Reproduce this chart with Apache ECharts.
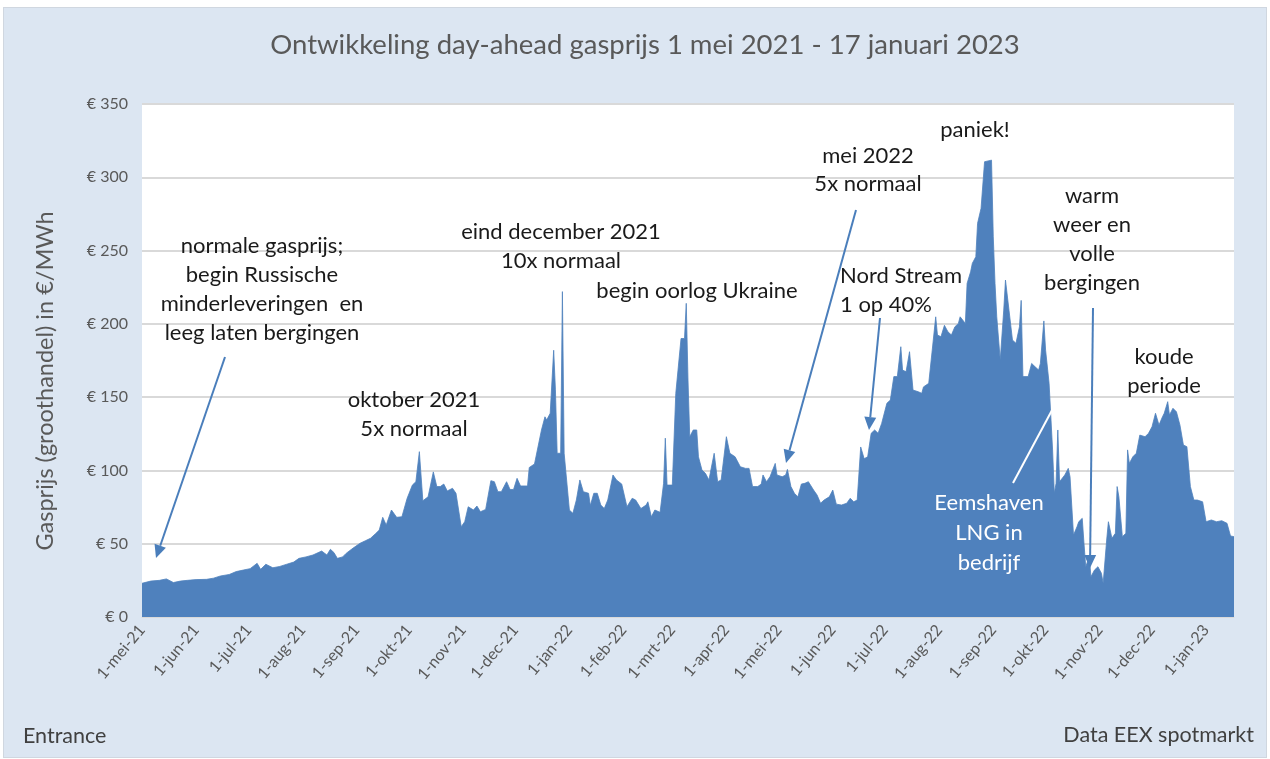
<!DOCTYPE html>
<html><head><meta charset="utf-8">
<script src="https://cdn.jsdelivr.net/npm/echarts@6/dist/echarts.min.js"></script>
<style>
html,body{margin:0;padding:0;background:#fff;}
#frame{position:absolute;left:3px;top:7px;width:1262px;height:749px;background:#dce6f2;border:1px solid #d0d7e0;}
#c{position:absolute;left:0;top:0;width:1270px;height:759px;}
</style>
</head><body><div id="frame"></div><div id="c"></div>
<script>
// ---- data ----
const readDates = [
'2021-05-01','2021-05-06','2021-05-11','2021-05-15','2021-05-19','2021-05-23','2021-05-27','2021-06-01','2021-06-07','2021-06-11',
'2021-06-15','2021-06-20','2021-06-24','2021-06-28','2021-07-02','2021-07-06','2021-07-08','2021-07-11','2021-07-15','2021-07-19',
'2021-07-23','2021-07-27','2021-07-30','2021-08-03','2021-08-07','2021-08-12','2021-08-15','2021-08-17','2021-08-19','2021-08-21',
'2021-08-24','2021-08-26','2021-08-30','2021-09-03','2021-09-06','2021-09-09','2021-09-12','2021-09-14','2021-09-16','2021-09-18',
'2021-09-21','2021-09-24','2021-09-27','2021-09-30','2021-10-03','2021-10-05','2021-10-07','2021-10-09','2021-10-12','2021-10-15',
'2021-10-17','2021-10-19','2021-10-21','2021-10-23','2021-10-26','2021-10-28','2021-10-31','2021-11-02','2021-11-04','2021-11-07',
'2021-11-09','2021-11-11','2021-11-14','2021-11-17','2021-11-19','2021-11-21','2021-11-23','2021-11-26','2021-11-28','2021-11-30',
'2021-12-02','2021-12-04','2021-12-08','2021-12-09','2021-12-12','2021-12-13','2021-12-16','2021-12-18','2021-12-19','2021-12-21',
'2021-12-23','2021-12-24','2021-12-25','2021-12-27','2021-12-28','2021-12-29','2022-01-01','2022-01-03','2022-01-05','2022-01-07',
'2022-01-09','2022-01-12','2022-01-13','2022-01-15','2022-01-17','2022-01-19','2022-01-21','2022-01-23','2022-01-24','2022-01-26',
'2022-01-28','2022-01-31','2022-02-03','2022-02-06','2022-02-08','2022-02-11','2022-02-14','2022-02-15','2022-02-17','2022-02-19',
'2022-02-22','2022-02-24','2022-02-25','2022-02-26','2022-03-01','2022-03-03','2022-03-06','2022-03-08','2022-03-09','2022-03-10',
'2022-03-11','2022-03-13','2022-03-15','2022-03-16','2022-03-18','2022-03-20','2022-03-22','2022-03-25','2022-03-27','2022-03-29',
'2022-04-01','2022-04-03','2022-04-06','2022-04-09','2022-04-12','2022-04-14','2022-04-16','2022-04-19','2022-04-21','2022-04-22',
'2022-04-24','2022-04-26','2022-04-29','2022-04-30','2022-05-03','2022-05-05','2022-05-06','2022-05-08','2022-05-10','2022-05-12',
'2022-05-14','2022-05-16','2022-05-18','2022-05-21','2022-05-23','2022-05-25','2022-05-27','2022-05-30','2022-06-01','2022-06-03',
'2022-06-06','2022-06-09','2022-06-11','2022-06-13','2022-06-15','2022-06-17','2022-06-19','2022-06-21','2022-06-23','2022-06-25',
'2022-06-27','2022-06-29','2022-07-02','2022-07-04','2022-07-06','2022-07-08','2022-07-10','2022-07-11','2022-07-13','2022-07-15',
'2022-07-17','2022-07-20','2022-07-22','2022-07-23','2022-07-26','2022-07-28','2022-07-30','2022-07-31','2022-08-02','2022-08-04',
'2022-08-06','2022-08-08','2022-08-10','2022-08-12','2022-08-13','2022-08-16','2022-08-17','2022-08-19','2022-08-20','2022-08-22',
'2022-08-23','2022-08-25','2022-08-27','2022-08-31','2022-09-01','2022-09-02','2022-09-03','2022-09-05','2022-09-07','2022-09-08',
'2022-09-10','2022-09-12','2022-09-14','2022-09-16','2022-09-17','2022-09-18','2022-09-21','2022-09-23','2022-09-25','2022-09-27',
'2022-09-28','2022-09-30','2022-10-01','2022-10-03','2022-10-04','2022-10-05','2022-10-06','2022-10-07','2022-10-08','2022-10-09',
'2022-10-12','2022-10-14','2022-10-15','2022-10-17','2022-10-19','2022-10-20','2022-10-22','2022-10-23','2022-10-24','2022-10-26',
'2022-10-27','2022-10-29','2022-10-31','2022-11-02','2022-11-03','2022-11-05','2022-11-06','2022-11-08','2022-11-10','2022-11-11',
'2022-11-12','2022-11-14','2022-11-16','2022-11-17','2022-11-18','2022-11-20','2022-11-22','2022-11-24','2022-11-27','2022-11-29',
'2022-12-01','2022-12-03','2022-12-05','2022-12-07','2022-12-08','2022-12-10','2022-12-11','2022-12-13','2022-12-15','2022-12-17',
'2022-12-19','2022-12-21','2022-12-23','2022-12-25','2022-12-27','2022-12-30','2023-01-01','2023-01-04','2023-01-07','2023-01-10',
'2023-01-13','2023-01-15','2023-01-17'
];
const prices = [
23,24.5,25,26,23.5,24.5,25,25.5,25.7,26.5,
28,29,31,32,33,36.6,32.5,36,33.6,34.5,
36,37.5,40,41,42.3,45,42.3,46.2,44,40,
41,43.4,47,50.3,52,53.7,57,59.3,68,62.8,
73,68,68.4,81,90,92.3,112.8,79.3,82,99,
89,89,90.7,86,87.8,84.4,61.6,65,75.2,73,
75.7,71.8,73.4,93,92.3,85.5,85.5,92.3,87,87,
94.6,89.4,89.4,102,104.4,104.8,127.6,136.6,134.4,139,
182,155,111.7,111.7,222,111.7,73,70.7,79.8,93.5,
85.5,84.4,76,84.4,84.4,76.4,74,79.8,79.8,96.9,
93.5,90.7,75.2,81,79.8,74,76.4,78.6,68.4,73,
71.4,91.2,122,90,90,152.6,190,190,214,161.7,
123,127.6,127.6,109.3,100.3,98,93.5,111.7,92.3,93.5,
123,111.7,109.3,102.5,101.4,101.4,89,89,90.7,96.9,
92.3,95.7,104.8,96.9,95.7,96.9,100.7,89,84.4,82,
90.7,91.2,92.3,86.6,83.2,77.6,79.8,82,86.6,77,
76.4,77.6,81,78.6,79.8,116,108,109.3,125.3,127.6,
125.3,132,145.8,148,164,164,184.4,168.5,167.3,181,
154.8,153.7,152.6,157,159.4,182,204.8,192.4,191.2,199,
194.6,192.4,198,200.3,204.8,200.3,227.6,235.5,241.3,245.8,
268.6,278.8,310.6,311.7,259.4,227.6,204.8,175.3,209.4,229.9,
209.4,189,186.7,198,216,164,164,173,170.7,168.5,
173,202,182,159.4,158.2,114,84.4,91.2,127.6,92.3,
96.9,101.4,95.7,55.9,61.6,65,67.3,50.3,34.3,41.1,
27.5,32,34.3,29.8,23,52.5,65,53.7,57.1,89,
82,54.8,57.1,114,104.8,109.3,111.7,124.1,123,125.3,
129.8,139,131,136.6,139,146.9,137.8,142.4,140,131,
117.3,116.2,89,79.8,79.8,78.6,65,66.2,65,65.7,
63.9,55.3,54.8
];
const monthNames = ['jan','feb','mrt','apr','mei','jun','jul','aug','sep','okt','nov','dec'];
const yMin = 0, yMax = 350, yStep = 50;
const firstDay = '2021-05-01', lastDay = '2023-01-17';

// ---- build daily category axis; days without a reading are left empty ----
const days = [];
for (let t = Date.parse(firstDay + 'T00:00:00Z'); t <= Date.parse(lastDay + 'T00:00:00Z'); t += 86400000) {
  days.push(new Date(t).toISOString().slice(0, 10));
}
const priceOf = {};
readDates.forEach((d, i) => { priceOf[d] = prices[i]; });
const seriesData = days.map(d => (d in priceOf ? priceOf[d] : null));

const isMonthStart = (i, v) => v.slice(8) === '01';
const fmtDate = v => { const p = v.split('-'); return (+p[2]) + '-' + monthNames[+p[1] - 1] + '-' + p[0].slice(2); };

const FONT = 'Lato, "Liberation Sans", sans-serif';
const GRAY = '#595959';
const ARROW = '#4a7ebb';

function arrow(x1, y1, x2, y2, color) {
  const a = Math.atan2(y2 - y1, x2 - x1), L = 13, W = 6;
  const bx = x2 - L * Math.cos(a), by = y2 - L * Math.sin(a);
  const nx = -Math.sin(a) * W, ny = Math.cos(a) * W;
  return [
    { type: 'line', shape: { x1: x1, y1: y1, x2: bx, y2: by }, style: { stroke: color, lineWidth: 2 }, z: 10 },
    { type: 'polygon', shape: { points: [[x2, y2], [bx + nx, by + ny], [bx - nx, by - ny]] }, style: { fill: color }, z: 10 }
  ];
}
function label(text, x, yFirst, opts) {
  opts = opts || {};
  const lh = opts.lh || 29;
  return {
    type: 'text', z: 10,
    style: {
      text: text, x: x, y: yFirst - lh / 2,
      textAlign: opts.align || 'center', textVerticalAlign: 'top',
      fontFamily: FONT, fontSize: opts.size || 22, lineHeight: lh,
      fill: opts.color || '#1a1a1a'
    }
  };
}

const graphics = [
  { type: 'text', z: 10, style: { text: 'Ontwikkeling day-ahead gasprijs 1 mei 2021 - 17 januari 2023', x: 645, y: 45,
      textAlign: 'center', textVerticalAlign: 'middle', fontFamily: FONT, fontSize: 27.5, fill: GRAY } },
  { type: 'text', z: 10, rotation: Math.PI / 2, x: 45, y: 381,
    style: { text: 'Gasprijs (groothandel) in €/MWh', x: 0, y: 0, textAlign: 'center', textVerticalAlign: 'middle',
      fontFamily: FONT, fontSize: 23.5, fill: GRAY } },
  { type: 'text', z: 10, style: { text: 'Entrance', x: 23, y: 736, textAlign: 'left', textVerticalAlign: 'middle',
      fontFamily: FONT, fontSize: 21.5, fill: '#404040' } },
  { type: 'text', z: 10, style: { text: 'Data EEX spotmarkt', x: 1254, y: 735, textAlign: 'right', textVerticalAlign: 'middle',
      fontFamily: FONT, fontSize: 21.5, fill: '#404040' } },
  label('normale gasprijs;\nbegin Russische\nminderleveringen  en\nleeg laten bergingen', 262, 246),
  label('oktober 2021\n5x normaal', 414, 400),
  label('eind december 2021\n10x normaal', 561, 232),
  label('begin oorlog Ukraine', 697, 291),
  label('mei 2022\n5x normaal', 868, 156, { lh: 28 }),
  label('Nord Stream\n1 op 40%', 840, 276, { align: 'left' }),
  label('paniek!', 975, 130),
  label('warm\nweer en\nvolle\nbergingen', 1092, 196),
  label('koude\nperiode', 1164, 357),
  label('Eemshaven\nLNG in\nbedrijf', 989, 503, { color: '#ffffff', lh: 30 }),
  { type: 'line', z: 10, shape: { x1: 1013, y1: 483, x2: 1058, y2: 399 }, style: { stroke: '#ffffff', lineWidth: 2 } }
].concat(
  arrow(225, 357, 156, 558, ARROW),
  arrow(856, 210, 786, 463, ARROW),
  arrow(880, 318, 869, 430, ARROW),
  arrow(1093, 308, 1090, 568, ARROW)
);

const chart = echarts.init(document.getElementById('c'));
chart.setOption({
  backgroundColor: 'transparent',
  animation: false,
  textStyle: { fontFamily: FONT },
  grid: { left: 142, right: 36, top: 104, bottom: 142, show: true, backgroundColor: '#ffffff', borderWidth: 0 },
  xAxis: {
    type: 'category', data: days, boundaryGap: false,
    axisLine: { lineStyle: { color: '#d9d9d9', width: 1 } },
    axisTick: { show: false },
    axisLabel: { interval: isMonthStart, rotate: 50, formatter: fmtDate, color: GRAY, fontSize: 16, margin: 10, fontFamily: FONT },
    splitLine: { show: false }
  },
  yAxis: {
    type: 'value', min: yMin, max: yMax, interval: yStep,
    axisLine: { show: false }, axisTick: { show: false },
    axisLabel: { formatter: v => '€ ' + v, color: GRAY, fontSize: 16, margin: 14, fontFamily: FONT },
    splitLine: { lineStyle: { color: '#d9d9d9', width: 2 } }
  },
  series: [{
    type: 'line', data: seriesData, connectNulls: true, showSymbol: false, symbol: 'none',
    lineStyle: { width: 0.8, color: '#4f81bd' },
    areaStyle: { color: '#4f81bd', opacity: 1 },
    z: 2
  }],
  graphic: graphics
});
</script>
</body></html>
